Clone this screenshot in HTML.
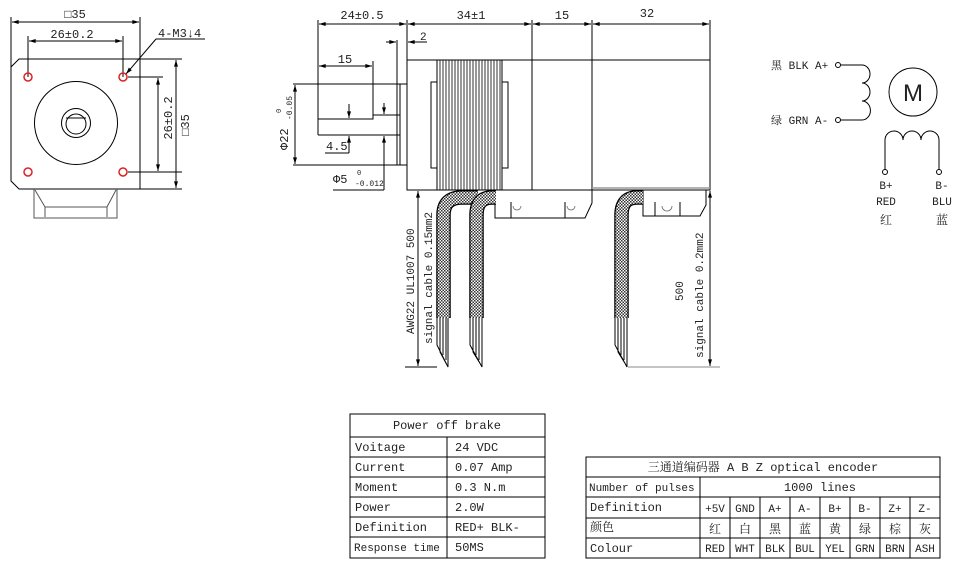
<!DOCTYPE html>
<html><head><meta charset="utf-8"><style>
html,body{margin:0;padding:0;background:#fff;}
svg{display:block;}
text{font-family:"Liberation Mono","Noto Serif CJK SC",monospace;fill:#222;}
</style></head><body>
<svg width="956" height="562" viewBox="0 0 956 562" xmlns="http://www.w3.org/2000/svg">
<defs>
<pattern id="hx" width="3" height="3" patternUnits="userSpaceOnUse">
<rect width="3" height="3" fill="#fff"/><rect width="1.5" height="1.5" fill="#333"/><rect x="1.5" y="1.5" width="1.5" height="1.5" fill="#333"/>
</pattern>
<marker id="a" viewBox="0 0 10 6" refX="10" refY="3" markerWidth="8" markerHeight="4" orient="auto-start-reverse"><path d="M0,0L10,3L0,6z" fill="#000"/></marker>
</defs>
<g stroke="#000" stroke-width="1" fill="none">
<path d="M19,59 H140 V189 H19 L11,181 V67 Z"/>
<path d="M140,59 H182 M128,172 H182 M128,77 H163 M140,189 H182"/>
<line x1="176" y1="60" x2="176" y2="188" marker-start="url(#a)" marker-end="url(#a)"/>
<line x1="158" y1="78" x2="158" y2="171" marker-start="url(#a)" marker-end="url(#a)"/>
<line x1="140" y1="17" x2="140" y2="59"/>
<line x1="11" y1="17" x2="11" y2="67"/>
<line x1="12" y1="22" x2="139" y2="22" marker-start="url(#a)" marker-end="url(#a)"/>
<line x1="28" y1="36" x2="28" y2="77"/><line x1="123" y1="36" x2="123" y2="77"/>
<line x1="29" y1="41" x2="122" y2="41" marker-start="url(#a)" marker-end="url(#a)"/>
<line x1="156" y1="39" x2="205" y2="39"/>
<line x1="156" y1="39" x2="126" y2="74" marker-end="url(#a)"/>
<circle cx="76" cy="123" r="41.5"/><circle cx="76" cy="123" r="14.5"/><circle cx="76" cy="124" r="10"/>
<line x1="66" y1="118" x2="86" y2="118"/>
<g stroke="#d22" stroke-width="1.5"><circle cx="28" cy="77" r="4"/><circle cx="123" cy="77" r="4"/><circle cx="28" cy="172" r="4"/><circle cx="123" cy="172" r="4"/></g>
<path d="M34,189 V218 H117 V189 M35,190 L45,207 H107 L116,190 M45,207 V217 M107,207 V217" stroke="#555"/>

<rect x="407" y="60" width="303" height="130"/>
<line x1="532" y1="20" x2="532" y2="190"/><line x1="592" y1="20" x2="592" y2="190"/>
<line x1="407" y1="20" x2="407" y2="60"/><line x1="710" y1="20" x2="710" y2="60"/>
<line x1="318" y1="20" x2="318" y2="135"/>
<line x1="319" y1="24" x2="406" y2="24" marker-start="url(#a)" marker-end="url(#a)"/>
<line x1="408" y1="24" x2="531" y2="24" marker-start="url(#a)" marker-end="url(#a)"/>
<line x1="533" y1="24" x2="591" y2="24" marker-start="url(#a)" marker-end="url(#a)"/>
<line x1="593" y1="24" x2="709" y2="24" marker-start="url(#a)" marker-end="url(#a)"/>
<rect x="437" y="60" width="65" height="130"/>
<path d="M440,60V190M443,60V190M446,60V190M449,60V190M452,60V190M455,60V190M458,60V190M461,60V190M464,60V190M467,60V190M470,60V190M473,60V190M476,60V190M479,60V190M482,60V190M485,60V190M488,60V190M491,60V190M494,60V190M497,60V190M500,60V190" stroke-width="0.8"/>
<rect x="431" y="82" width="6" height="86"/><rect x="502" y="82" width="6" height="86"/>
<path d="M293,84 H407 M293,165 H407 M400,84 V165 M397,40 V165"/>
<path d="M373,61 V119 H318 M373,115 H400 M318,135 H400"/>
<line x1="386" y1="42" x2="396" y2="42" marker-end="url(#a)"/>
<line x1="427" y1="42" x2="408" y2="42" marker-end="url(#a)"/>
<line x1="319" y1="66" x2="372" y2="66" marker-start="url(#a)" marker-end="url(#a)"/>
<line x1="295" y1="85" x2="295" y2="164" marker-start="url(#a)" marker-end="url(#a)"/>
<line x1="349" y1="104" x2="349" y2="118" marker-end="url(#a)"/>
<line x1="349" y1="153" x2="349" y2="136" marker-end="url(#a)"/>
<path d="M325,153 H349"/>
<line x1="384" y1="103" x2="384" y2="114" marker-end="url(#a)"/>
<line x1="384" y1="190" x2="384" y2="136" marker-end="url(#a)"/>
<path d="M333,190 H384"/>
<path d="M495,190 V218 H585 L592,203 V190 M511,202 V218 M565,202 V218"/>
<path d="M592,188 H710" stroke="#999" stroke-width="1.5"/>
<path d="M643,190 V216 H700 L706,205 V190 M655,202 V216 M680,202 V216"/>
<g stroke="#666" stroke-width="0.8"><path d="M513,206 a4,4 0 0 0 8,0 M567,206 a4,4 0 0 0 8,0 M662,206 a5,5 0 0 0 10,0"/></g>
<g stroke-linecap="butt">
<path d="M443.5,318 V215 Q443.5,197.5 462,197.5 H478" stroke="#000" stroke-width="14.5"/>
<path d="M443.5,318 V215 Q443.5,197.5 462,197.5 H478" stroke="url(#hx)" stroke-width="12"/>
<path d="M476.5,318 V215 Q476.5,197.5 492,197.5 H496" stroke="#000" stroke-width="14.5"/>
<path d="M476.5,318 V215 Q476.5,197.5 492,197.5 H496" stroke="url(#hx)" stroke-width="12"/>
<path d="M621.5,318 V215 Q621.5,197.5 637,197.5 H643" stroke="#000" stroke-width="14.5"/>
<path d="M621.5,318 V215 Q621.5,197.5 637,197.5 H643" stroke="url(#hx)" stroke-width="12"/>
</g>
<path d="M437,318 V345 L448,367 V318 M440,318V352L447,365 M443,318V355 M446,318V360"/>
<path d="M470,318 V345 L482,367 V318 M473,318V352L481,365 M476,318V355 M479,318V360"/>
<path d="M615,318 V345 L627,367 V318 M618,318V352L626,365 M621,318V355 M624,318V360"/>
<line x1="418" y1="191" x2="418" y2="366" marker-start="url(#a)" marker-end="url(#a)"/>
<path d="M405,367 H437"/>
<line x1="710" y1="191" x2="710" y2="366" marker-start="url(#a)" marker-end="url(#a)"/>
<path d="M628,367 H720" stroke="#888"/>

<path d="M841,65 H862 a8,9 0 0 1 0,18 a8,9 0 0 1 0,18 a8,9 0 0 1 0,19 H841"/>
<circle cx="838" cy="65" r="2.5"/><circle cx="838" cy="120" r="2.5"/>
<circle cx="913" cy="92" r="24"/>
<path d="M885,169 V140 a9,9 0 0 1 18,0 a9,9 0 0 1 18,0 a9,9 0 0 1 18,0 V169"/>
<circle cx="885" cy="172" r="2.5"/><circle cx="939" cy="172" r="2.5"/>

<rect x="350" y="414" width="195" height="144"/>
<path d="M350,437H545M350,457H545M350,477H545M350,497H545M350,517H545M350,537H545M447,437V558"/>
<rect x="586" y="457" width="354" height="101"/>
<path d="M586,477H940M586,497H940M586,518H940M586,538H940M700,477V558M730,497V558M760,497V558M790,497V558M820,497V558M850,497V558M880,497V558M910,497V558"/>
</g>

<g font-size="12">
<text x="75" y="18" text-anchor="middle">□35</text>
<text x="72" y="38" text-anchor="middle" fill="#446">26±0.2</text>
<text x="158" y="37">4-M3↓4</text>
<text transform="translate(172,118) rotate(-90)" text-anchor="middle" fill="#446">26±0.2</text>
<text transform="translate(189,125) rotate(-90)" text-anchor="middle">□35</text>

<text x="362" y="19" text-anchor="middle">24±0.5</text>
<text x="471" y="19" text-anchor="middle">34±1</text>
<text x="562" y="19" text-anchor="middle">15</text>
<text x="647" y="17" text-anchor="middle">32</text>
<text x="420" y="40" font-size="11">2</text>
<text x="345" y="63" text-anchor="middle">15</text>
<text x="326" y="150">4.5</text>
<text x="333" y="183">Φ5</text>
<text x="357" y="175" font-size="7">0</text>
<text x="355" y="186" font-size="8">-0.012</text>
<text transform="translate(288,150) rotate(-90)" fill="#544">Φ22</text>
<text transform="translate(281,113) rotate(-90)" font-size="7">0</text>
<text transform="translate(292,120) rotate(-90)" font-size="8">-0.05</text>
<text transform="translate(414,334) rotate(-90)" font-size="11">AWG22 UL1007 500</text>
<text transform="translate(432,344) rotate(-90)" font-size="11">signal cable 0.15mm2</text>
<text transform="translate(683,301) rotate(-90)" font-size="11">500</text>
<text transform="translate(703,358) rotate(-90)" font-size="11">signal cable 0.2mm2</text>

<text x="771" y="69" font-size="11">黑 BLK A+</text>
<text x="771" y="124" font-size="11">绿 GRN A-</text>
<text x="913" y="101" text-anchor="middle" font-size="24" style="font-family:'Liberation Sans'">M</text>
<text x="886" y="189" text-anchor="middle" font-size="11">B+</text>
<text x="942" y="189" text-anchor="middle" font-size="11">B-</text>
<text x="886" y="205" text-anchor="middle" font-size="11">RED</text>
<text x="942" y="205" text-anchor="middle" font-size="11">BLU</text>
<text x="886" y="224" text-anchor="middle" font-size="12">红</text>
<text x="942" y="224" text-anchor="middle" font-size="12">蓝</text>

<text x="447" y="429" text-anchor="middle">Power off brake</text>
<text x="355" y="451">Voitage</text><text x="455" y="451">24 VDC</text>
<text x="355" y="471">Current</text><text x="455" y="471">0.07 Amp</text>
<text x="355" y="491">Moment</text><text x="455" y="491">0.3 N.m</text>
<text x="355" y="511">Power</text><text x="455" y="511">2.0W</text>
<text x="355" y="531">Definition</text><text x="455" y="531">RED+ BLK-</text>
<text x="354" y="551" font-size="11">Response time</text><text x="455" y="551">50MS</text>

<text x="763" y="471" text-anchor="middle">三通道编码器 A B Z optical encoder</text>
<text x="589" y="491" font-size="11">Number of pulses</text>
<text x="820" y="491" text-anchor="middle">1000 lines</text>
<text x="590" y="511">Definition</text>
<text x="590" y="531">颜色</text>
<text x="590" y="552">Colour</text>
<g text-anchor="middle" font-size="11">
<text x="715" y="512">+5V</text><text x="745" y="512">GND</text><text x="775" y="512">A+</text><text x="805" y="512">A-</text><text x="835" y="512">B+</text><text x="865" y="512">B-</text><text x="895" y="512">Z+</text><text x="925" y="512">Z-</text>
<text x="715" y="533" font-size="12">红</text><text x="745" y="533" font-size="12">白</text><text x="775" y="533" font-size="12">黑</text><text x="805" y="533" font-size="12">蓝</text><text x="835" y="533" font-size="12">黄</text><text x="865" y="533" font-size="12">绿</text><text x="895" y="533" font-size="12">棕</text><text x="925" y="533" font-size="12">灰</text>
<text x="715" y="552">RED</text><text x="745" y="552">WHT</text><text x="775" y="552">BLK</text><text x="805" y="552">BUL</text><text x="835" y="552">YEL</text><text x="865" y="552">GRN</text><text x="895" y="552">BRN</text><text x="925" y="552">ASH</text>
</g>
</g>
</svg>
</body></html>
